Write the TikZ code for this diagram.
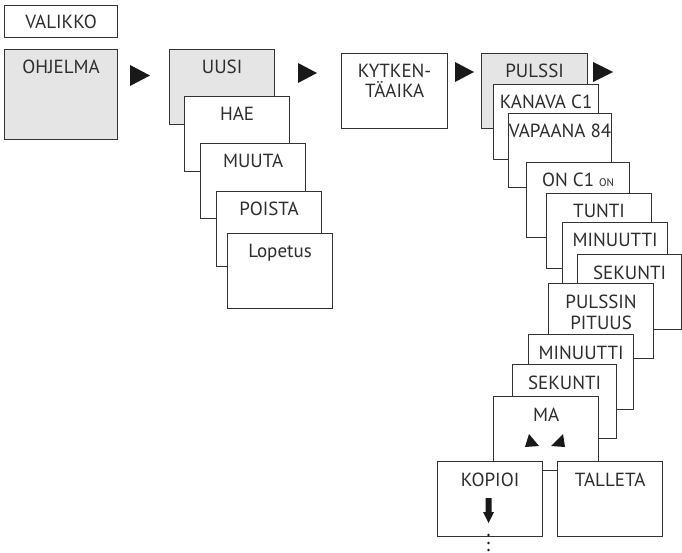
\documentclass[tikz,border=0pt]{standalone}
\usepackage{fontspec}
\setmainfont{PT Sans}
\definecolor{ln}{RGB}{51,51,51}
\definecolor{txt}{RGB}{45,45,45}
\definecolor{pane}{RGB}{229,229,229}
\tikzset{
  x=1pt, y=-1pt,
  box/.style={draw=ln, line width=1.2pt, fill=white, anchor=north west, inner sep=0pt,
    minimum width=105pt, minimum height=75pt},
  grey/.style={fill=pane},
  lbl/.style={anchor=base, inner sep=0pt, text=txt, font=\fontsize{19}{21}\selectfont, align=center},
  tri/.style={fill=black!90, draw=none}
}
\begin{document}
\begin{tikzpicture}
\useasboundingbox (0,0) rectangle (682,553);
% column 1
\node[box, minimum width=113pt, minimum height=32pt] (valikko) at (4,5) {};
\node[lbl] (valikko-t) at ([yshift=-7pt]valikko.center) {VALIKKO};
\node[box, grey, minimum width=113pt, minimum height=90pt] (ohjelma) at (4,49) {};
\node[lbl] (ohjelma-t) at ([yshift=-25pt]ohjelma.north) {OHJELMA};
% column 2
\node[box, grey] (uusi) at (169,49) {};
\node[lbl] at ([yshift=-25pt]uusi.north) {UUSI};
\node[box] (hae) at (184,96) {};
\node[lbl] at ([yshift=-25pt]hae.north) {HAE};
\node[box] (muuta) at (200,143) {};
\node[lbl] at ([yshift=-25pt]muuta.north) {MUUTA};
\node[box] (poista) at (216,191) {};
\node[lbl] at ([yshift=-25pt]poista.north) {POISTA};
\node[box] (lopetus) at (227,233) {};
\node[lbl] at ([yshift=-25pt]lopetus.north) {Lopetus};
% column 3
\node[box, minimum width=106pt] (kytken) at (341,53) {};
\node[lbl] at ([yshift=-45pt]kytken.north) {KYTKEN-\\[-1pt]TÄAIKA};
% column 4
\node[box, grey, minimum width=106pt] (pulssi) at (481,53) {};
\node[lbl] at ([yshift=-25pt]pulssi.north) {PULSSI};
\node[box] (kanava) at (493,84) {};
\node[lbl] at ([yshift=-25pt]kanava.north) {KANAVA C1};
\node[box, minimum width=103pt, minimum height=74pt] (vapaana) at (508,113) {};
\node[lbl] at ([yshift=-25pt]vapaana.north) {VAPAANA 84};
\node[box, minimum width=103pt] (onc) at (526,162) {};
\node[lbl] at ([yshift=-25pt]onc.north) {ON C1 {\fontsize{11}{12}\selectfont ON}};
\node[box] (tunti) at (546,193) {};
\node[lbl] at ([yshift=-25pt]tunti.north) {TUNTI};
\node[box] (min1) at (562,222) {};
\node[lbl] at ([yshift=-25pt]min1.north) {MINUUTTI};
\node[box, minimum width=104pt] (sek1) at (577,254) {};
\node[lbl] at ([yshift=-25pt]sek1.north) {SEKUNTI};
\node[box] (pituus) at (548,283) {};
\node[lbl] at ([yshift=-46pt]pituus.north) {PULSSIN\\[0pt]PITUUS};
\node[box] (min2) at (528,334) {};
\node[lbl] at ([yshift=-25pt]min2.north) {MINUUTTI};
\node[box, minimum width=104pt, minimum height=74pt] (sek2) at (512,364) {};
\node[lbl] at ([yshift=-25pt]sek2.north) {SEKUNTI};
\node[box, minimum height=74pt] (ma) at (493,396) {};
\node[lbl] at ([yshift=-25pt]ma.north) {MA};
\fill[tri] (529,434) -- (539,446) -- (525,447) -- cycle;
\fill[tri] (563,434) -- (565,447) -- (551,446) -- cycle;
\node[box] (kopioi) at (437,461) {};
\node[lbl] at ([yshift=-25pt]kopioi.north) {KOPIOI};
\node[box] (talleta) at (557,461) {};
\node[lbl] at ([yshift=-25pt]talleta.north) {TALLETA};
% down arrow in KOPIOI
\fill[black!90] (485.5,498) -- (491.5,498) -- (491.5,512) -- (494,512) -- (488.5,523) -- (483,512) -- (485.5,512) -- cycle;
% dots below
\coordinate (dots) at (488.5,535);
\foreach \d in {0,8,15} \fill[black!90] ([yshift=-\d pt]dots) circle (1.4pt);
% step arrows
\fill[tri] (130,65) -- (150,75.5) -- (130,86) -- cycle;
\fill[tri] (298,63) -- (317,73) -- (298,83) -- cycle;
\fill[tri] (455,62) -- (474,72) -- (455,82) -- cycle;
\fill[tri] (593,62) -- (613,72) -- (593,82) -- cycle;
\end{tikzpicture}
\end{document}
